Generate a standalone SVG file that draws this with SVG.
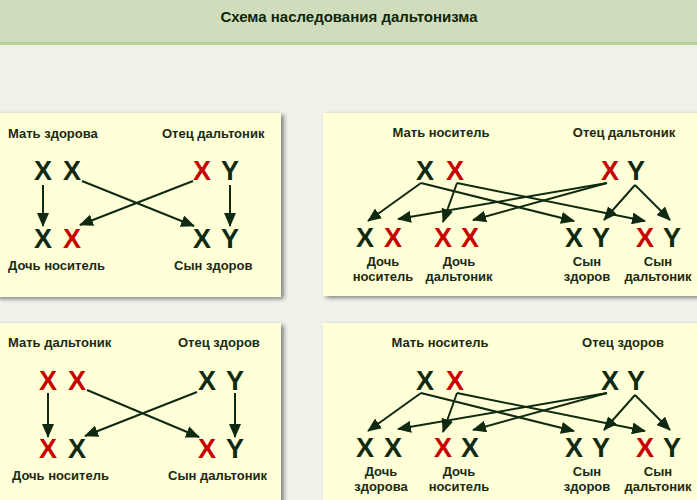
<svg xmlns="http://www.w3.org/2000/svg" width="697" height="500" viewBox="0 0 697 500">
<defs>
<marker id="ah" markerWidth="14" markerHeight="12" refX="13" refY="6" orient="auto" markerUnits="userSpaceOnUse"><path d="M0,0 L14,6 L0,12 z" fill="#0f2a10"/></marker>
<filter id="sh" x="-5%" y="-5%" width="115%" height="115%"><feDropShadow dx="3" dy="2" stdDeviation="2" flood-color="#000" flood-opacity="0.45"/></filter>
</defs>
<style>
.lb{font-family:"Liberation Sans",Arial,sans-serif;font-weight:bold;font-size:13px;fill:#1a2a14}
.ch{font-family:"Liberation Sans",Arial,sans-serif;font-weight:bold;font-size:27px;fill:#0f2a10;text-anchor:middle}
.r{fill:#c80000}
.m{text-anchor:middle}
.panel{fill:#ffffd8;filter:url(#sh)}
.c line{stroke:#0f2a10;stroke-width:2;marker-end:url(#ah)}
</style>
<rect width="697" height="500" fill="#f0f2ea"/>
<rect width="697" height="42" fill="#d0ddbc"/>
<rect y="42" width="697" height="3" fill="#b8cf98"/>
<text x="349" y="22" class="lb m" style="font-size:15px;fill:#0c260a">Схема наследования дальтонизма</text>

<g id="panel1">
<rect class="panel" x="-5" y="113" width="286" height="184"/>
<text class="lb" x="8" y="138">Мать здорова</text>
<text class="lb" x="162" y="138">Отец дальтоник</text>
<text class="ch" x="43" y="180">X</text><text class="ch" x="72" y="180">X</text>
<text class="ch r" x="202" y="180">X</text><text class="ch" x="230" y="180">Y</text>
<text class="ch" x="43" y="248">X</text><text class="ch r" x="72" y="248">X</text>
<text class="ch" x="202" y="248">X</text><text class="ch" x="230" y="248">Y</text>
<text class="lb" x="8" y="270">Дочь носитель</text>
<text class="lb" x="174" y="270">Сын здоров</text>
</g>
<g id="panel2">
<rect class="panel" x="323" y="113" width="380" height="183"/>
<text class="lb m" x="441" y="137">Мать носитель</text>
<text class="lb m" x="624" y="137">Отец дальтоник</text>
<text class="ch" x="425" y="180">X</text><text class="ch r" x="455" y="180">X</text>
<text class="ch r" x="610" y="180">X</text><text class="ch" x="636" y="180">Y</text>
<text class="ch" x="365" y="247">X</text><text class="ch r" x="393" y="247">X</text>
<text class="ch r" x="443" y="247">X</text><text class="ch r" x="470" y="247">X</text>
<text class="ch" x="574" y="247">X</text><text class="ch" x="601" y="247">Y</text>
<text class="ch r" x="645" y="247">X</text><text class="ch" x="672" y="247">Y</text>
<text class="lb m" x="383" y="266">Дочь</text><text class="lb m" x="383" y="281">носитель</text>
<text class="lb m" x="459" y="266">Дочь</text><text class="lb m" x="459" y="281">дальтоник</text>
<text class="lb m" x="587" y="266">Сын</text><text class="lb m" x="587" y="281">здоров</text>
<text class="lb m" x="658" y="266">Сын</text><text class="lb m" x="658" y="281">дальтоник</text>
</g>
<g id="panel3">
<rect class="panel" x="-5" y="323" width="286" height="190"/>
<text class="lb" x="8" y="347">Мать дальтоник</text>
<text class="lb" x="178" y="347">Отец здоров</text>
<text class="ch r" x="48" y="390">X</text><text class="ch r" x="77" y="390">X</text>
<text class="ch" x="207" y="390">X</text><text class="ch" x="235" y="390">Y</text>
<text class="ch r" x="48" y="458">X</text><text class="ch" x="77" y="458">X</text>
<text class="ch r" x="207" y="458">X</text><text class="ch" x="235" y="458">Y</text>
<text class="lb" x="12" y="480">Дочь носитель</text>
<text class="lb" x="168" y="480">Сын дальтоник</text>
</g>
<g id="panel4">
<rect class="panel" x="323" y="323" width="380" height="190"/>
<text class="lb m" x="440" y="347">Мать носитель</text>
<text class="lb m" x="623" y="347">Отец здоров</text>
<text class="ch" x="425" y="390">X</text><text class="ch r" x="455" y="390">X</text>
<text class="ch" x="610" y="390">X</text><text class="ch" x="636" y="390">Y</text>
<text class="ch" x="365" y="457">X</text><text class="ch" x="393" y="457">X</text>
<text class="ch r" x="443" y="457">X</text><text class="ch" x="470" y="457">X</text>
<text class="ch" x="574" y="457">X</text><text class="ch" x="601" y="457">Y</text>
<text class="ch r" x="645" y="457">X</text><text class="ch" x="672" y="457">Y</text>
<text class="lb m" x="381" y="476">Дочь</text><text class="lb m" x="381" y="491">здорова</text>
<text class="lb m" x="459" y="476">Дочь</text><text class="lb m" x="459" y="491">носитель</text>
<text class="lb m" x="587" y="476">Сын</text><text class="lb m" x="587" y="491">здоров</text>
<text class="lb m" x="658" y="476">Сын</text><text class="lb m" x="658" y="491">дальтоник</text>
</g>
<g id="connectors" class="c">
<line x1="43" y1="185" x2="43" y2="226"/>
<line x1="230" y1="185" x2="230" y2="226"/>
<line x1="82" y1="181" x2="194" y2="226"/>
<line x1="193" y1="181" x2="80" y2="225"/>
<line x1="421" y1="183" x2="368" y2="221"/>
<line x1="421" y1="183" x2="574" y2="221"/>
<line x1="457" y1="183" x2="443" y2="222"/>
<line x1="457" y1="183" x2="645" y2="221"/>
<line x1="607" y1="183" x2="398" y2="219"/>
<line x1="607" y1="183" x2="473" y2="220"/>
<line x1="635" y1="185" x2="604" y2="220"/>
<line x1="635" y1="185" x2="670" y2="220"/>
<line x1="48" y1="393" x2="48" y2="437"/>
<line x1="235" y1="393" x2="235" y2="437"/>
<line x1="87" y1="390" x2="199" y2="437"/>
<line x1="197" y1="392" x2="85" y2="436"/>
<line x1="421" y1="393" x2="368" y2="431"/>
<line x1="421" y1="393" x2="574" y2="431"/>
<line x1="457" y1="393" x2="443" y2="432"/>
<line x1="457" y1="393" x2="645" y2="431"/>
<line x1="607" y1="393" x2="398" y2="429"/>
<line x1="607" y1="393" x2="473" y2="430"/>
<line x1="635" y1="395" x2="604" y2="430"/>
<line x1="635" y1="395" x2="670" y2="430"/>
</g>
</svg>
